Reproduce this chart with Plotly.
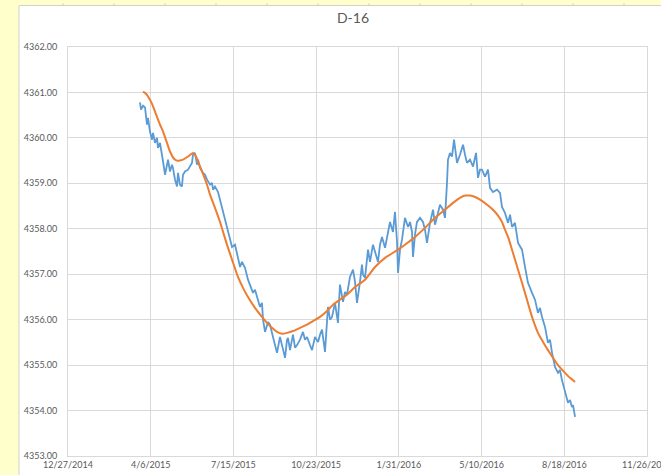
import plotly.graph_objects as go
import pandas as pd
import numpy as np

# ---- data (x as Excel serial dates, y as elevation) ----
blue_serial = [42087.0, 42088.3, 42090.7, 42093.1, 42095.5, 42096.7, 42099.1, 42101.6, 42102.8, 42105.2,
               42107.6, 42108.8, 42111.2, 42113.6, 42114.9, 42117.3, 42119.7, 42120.9, 42123.3, 42125.7,
               42126.9, 42129.4, 42131.8, 42133.0, 42135.4, 42137.8, 42139.0, 42141.5, 42145.1, 42147.5,
               42149.9, 42151.1, 42153.5, 42156.0, 42157.2, 42159.6, 42163.2, 42165.6, 42168.1, 42171.7,
               42174.1, 42175.3, 42177.7, 42181.4, 42186.2, 42189.8, 42192.2, 42195.9, 42198.3, 42201.9,
               42204.3, 42208.0, 42210.4, 42214.0, 42217.6, 42220.0, 42223.7, 42226.1, 42228.5, 42232.1,
               42234.5, 42235.8, 42238.2, 42241.8, 42244.2, 42246.6, 42247.8, 42250.3, 42252.7, 42256.3,
               42258.7, 42259.9, 42262.4, 42264.8, 42266.0, 42268.4, 42272.0, 42274.5, 42276.9, 42280.5,
               42284.1, 42286.5, 42289.0, 42292.6, 42295.0, 42298.6, 42302.3, 42304.7, 42307.1, 42310.7,
               42313.1, 42314.3, 42316.8, 42319.2, 42322.8, 42326.4, 42328.8, 42332.5, 42334.9, 42337.3,
               42340.9, 42344.6, 42347.0, 42349.4, 42353.0, 42355.4, 42356.7, 42359.1, 42362.7, 42365.1,
               42368.7, 42371.2, 42374.8, 42377.2, 42379.6, 42383.3, 42386.9, 42389.3, 42392.9, 42395.3,
               42397.8, 42399.0, 42401.4, 42403.8, 42407.4, 42411.1, 42413.5, 42415.9, 42417.1, 42419.5,
               42421.9, 42425.6, 42429.2, 42431.6, 42434.0, 42437.7, 42441.3, 42443.7, 42446.1, 42449.7,
               42453.4, 42455.8, 42458.2, 42459.4, 42461.8, 42464.3, 42466.7, 42467.9, 42470.3, 42473.9,
               42477.6, 42480.0, 42482.4, 42486.0, 42489.7, 42493.3, 42495.7, 42498.1, 42500.5, 42504.2,
               42507.8, 42510.2, 42513.8, 42518.7, 42522.3, 42524.7, 42528.3, 42532.0, 42534.4, 42536.8,
               42540.4, 42544.1, 42548.9, 42552.5, 42556.1, 42561.0, 42564.6, 42568.2, 42570.6, 42573.1,
               42576.7, 42580.3, 42582.7, 42585.2, 42588.8, 42592.4, 42594.8, 42597.2, 42600.9, 42604.5,
               42606.9, 42609.3, 42610.6, 42613.0]
blue_values = [4360.78, 4360.62, 4360.71, 4360.67, 4360.29, 4360.44, 4360.14, 4359.96, 4360.11, 4359.89,
               4360.00, 4359.78, 4359.89, 4359.67, 4359.48, 4359.19, 4359.41, 4359.52, 4359.26, 4359.41,
               4359.34, 4359.08, 4358.93, 4359.23, 4358.97, 4358.93, 4359.19, 4359.26, 4359.30, 4359.37,
               4359.45, 4359.63, 4359.67, 4359.41, 4359.52, 4359.34, 4359.23, 4359.19, 4359.08, 4358.97,
               4359.01, 4358.86, 4358.93, 4358.81, 4358.48, 4358.20, 4358.04, 4357.76, 4357.60, 4357.65,
               4357.47, 4357.16, 4357.27, 4357.14, 4356.88, 4356.77, 4356.59, 4356.66, 4356.50, 4356.28,
               4356.37, 4356.00, 4355.73, 4355.95, 4355.89, 4355.71, 4355.56, 4355.44, 4355.27, 4355.62,
               4355.44, 4355.33, 4355.16, 4355.56, 4355.60, 4355.33, 4355.67, 4355.38, 4355.44, 4355.56,
               4355.73, 4355.56, 4355.62, 4355.44, 4355.33, 4355.62, 4355.51, 4355.67, 4355.78, 4355.29,
               4355.82, 4356.28, 4356.00, 4356.06, 4356.37, 4355.93, 4356.77, 4356.39, 4356.61, 4356.55,
               4356.94, 4357.10, 4356.83, 4356.37, 4356.83, 4357.21, 4356.99, 4356.92, 4357.54, 4357.27,
               4357.65, 4357.49, 4357.27, 4357.65, 4357.82, 4357.58, 4357.93, 4358.15, 4357.93, 4358.37,
               4357.71, 4357.03, 4357.54, 4357.76, 4358.24, 4358.04, 4358.15, 4357.93, 4357.38, 4357.87,
               4358.15, 4358.24, 4358.15, 4357.98, 4357.69, 4358.13, 4358.42, 4358.09, 4358.26, 4358.53,
               4358.42, 4358.24, 4359.01, 4359.52, 4359.67, 4359.59, 4359.96, 4359.74, 4359.45, 4359.63,
               4359.85, 4359.63, 4359.45, 4359.52, 4359.37, 4359.67, 4359.12, 4359.30, 4359.30, 4359.15,
               4359.30, 4358.90, 4358.81, 4358.86, 4358.79, 4358.48, 4358.35, 4358.13, 4358.31, 4358.04,
               4358.13, 4357.69, 4357.54, 4357.16, 4356.81, 4356.59, 4356.44, 4356.15, 4356.26, 4356.06,
               4355.84, 4355.49, 4355.56, 4355.27, 4354.96, 4354.83, 4354.89, 4354.67, 4354.39, 4354.17,
               4354.23, 4354.08, 4354.12, 4353.86]

orange_serial = [42090.7, 42094.3, 42096.7, 42101.6, 42105.2, 42111.2, 42114.9, 42119.7, 42123.3, 42128.2,
                 42131.8, 42135.4, 42139.0, 42145.1, 42151.1, 42154.8, 42157.2, 42163.2, 42168.1, 42171.7,
                 42177.7, 42183.8, 42192.2, 42198.3, 42205.5, 42211.6, 42217.6, 42226.1, 42234.5, 42240.6,
                 42246.6, 42252.7, 42258.7, 42264.8, 42272.0, 42280.5, 42289.0, 42296.2, 42304.7, 42313.1,
                 42320.4, 42328.8, 42337.3, 42347.0, 42359.1, 42371.2, 42383.3, 42399.0, 42407.4, 42419.5,
                 42431.6, 42441.3, 42449.7, 42458.2, 42465.5, 42473.9, 42480.0, 42486.0, 42492.1, 42498.1,
                 42506.6, 42513.8, 42519.9, 42524.7, 42528.3, 42532.0, 42536.8, 42544.1, 42552.5, 42561.0,
                 42568.2, 42574.3, 42580.3, 42586.4, 42592.4, 42600.9, 42606.9, 42613.0]
orange_values = [4361.02, 4360.97, 4360.91, 4360.75, 4360.58, 4360.29, 4360.14, 4359.89, 4359.70, 4359.54,
                 4359.50, 4359.50, 4359.52, 4359.59, 4359.67, 4359.59, 4359.48, 4359.21, 4358.97, 4358.75,
                 4358.46, 4358.15, 4357.65, 4357.32, 4356.94, 4356.70, 4356.50, 4356.26, 4356.06, 4355.93,
                 4355.82, 4355.73, 4355.69, 4355.71, 4355.75, 4355.82, 4355.89, 4355.97, 4356.06, 4356.19,
                 4356.33, 4356.44, 4356.55, 4356.72, 4356.88, 4357.16, 4357.36, 4357.54, 4357.65, 4357.82,
                 4358.02, 4358.20, 4358.33, 4358.46, 4358.57, 4358.68, 4358.73, 4358.73, 4358.70, 4358.64,
                 4358.53, 4358.42, 4358.29, 4358.15, 4357.98, 4357.82, 4357.54, 4357.10, 4356.59, 4356.06,
                 4355.71, 4355.51, 4355.33, 4355.16, 4355.00, 4354.83, 4354.72, 4354.63]

title_text = "D-16"
x_start, x_end, x_step_days = "2014-12-27", "2016-11-26", 100
y_min, y_max, y_step = 4353, 4362, 1


def to_dt(serials):
    return pd.to_datetime(np.array(serials), unit="D", origin="1899-12-30")


W, H = 661, 475
L, R, T, B = 68, 14, 47, 19
PW, PH = W - L - R, H - T - B


def px(x):
    return (x - L) / PW


def py(y):
    return (H - B - y) / PH


fig = go.Figure()
fig.add_trace(go.Scatter(x=to_dt(blue_serial), y=blue_values, mode="lines",
                         line=dict(color="#5B9BD5", width=1.8), showlegend=False))
fig.add_trace(go.Scatter(x=to_dt(orange_serial), y=orange_values, mode="lines",
                         line=dict(color="#ED7D31", width=2, shape="spline", smoothing=0.5),
                         showlegend=False))

shapes = [
    # chart area (white) with light border, over yellow sheet background
    dict(type="rect", xref="paper", yref="paper", layer="below",
         x0=px(19), x1=px(W + 5), y0=py(H + 5), y1=py(5.5),
         fillcolor="white", line=dict(color="#D0D0D0", width=1)),
]
for k in range(12):
    xx = 63 + 51 * k
    shapes.append(dict(type="line", xref="paper", yref="paper", layer="below",
                       x0=px(xx), x1=px(xx), y0=py(3.5), y1=py(5.5),
                       line=dict(color="#C8C8C8", width=1)))

fig.update_layout(
    width=W, height=H,
    margin=dict(l=L, r=R, t=T, b=B, autoexpand=False),
    paper_bgcolor="#FFFFCC",
    plot_bgcolor="white",
    shapes=shapes,
    title=dict(text=title_text, xref="paper", x=px(353), xanchor="center",
               yref="container", y=1 - 18 / H, yanchor="middle",
               font=dict(family="Lato, Open Sans, sans-serif", size=14, color="#595959")),
    xaxis=dict(type="date", range=[x_start, x_end], tick0=x_start, dtick=x_step_days * 86400000,
               tickformat="%-m/%-d/%Y", showgrid=True, gridcolor="#D9D9D9", gridwidth=1,
               showline=True, linecolor="#D9D9D9", linewidth=1, mirror=True, automargin=False,
               ticks="", zeroline=False, ticklabeloverflow="allow",
               tickfont=dict(family="Lato, Open Sans, sans-serif", size=9, color="#595959")),
    yaxis=dict(range=[y_min, y_max], dtick=y_step, tick0=y_min, tickformat=".2f",
               showgrid=True, gridcolor="#D9D9D9", gridwidth=1, automargin=False,
               showline=True, linecolor="#D9D9D9", linewidth=1, mirror=True,
               ticks="", zeroline=False, ticklabelstandoff=8,
               tickfont=dict(family="Lato, Open Sans, sans-serif", size=9, color="#595959")),
)

fig.write_html("out.html", config={"displayModeBar": False},
               post_script="document.body.style.margin='0px';")
